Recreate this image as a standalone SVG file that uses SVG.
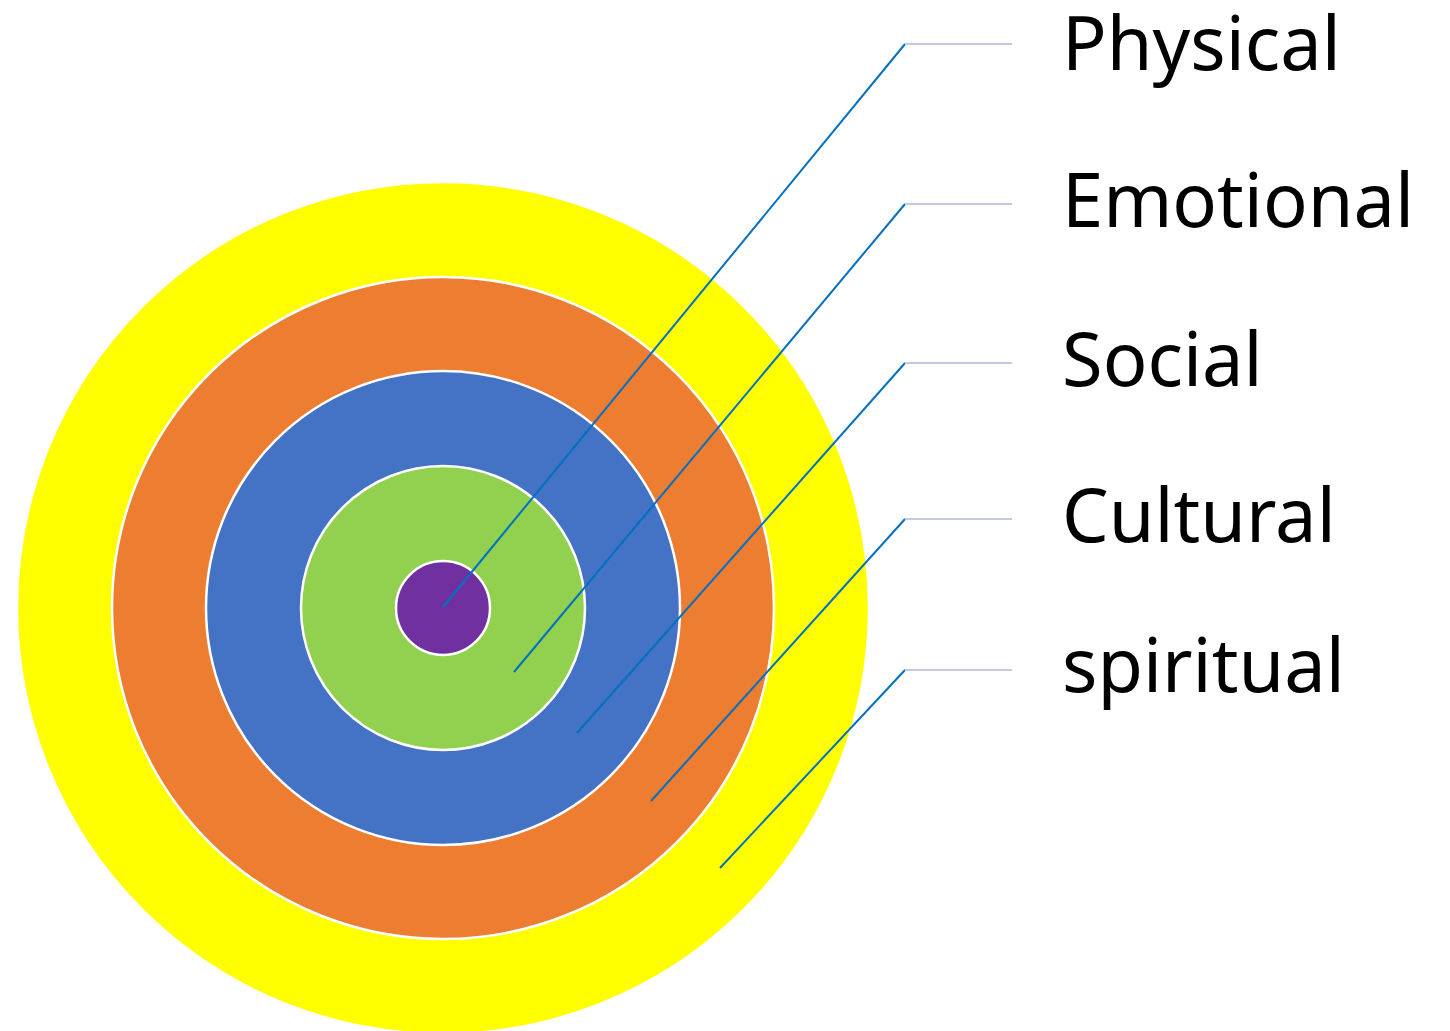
<svg xmlns="http://www.w3.org/2000/svg" width="1450" height="1031" viewBox="0 0 1450 1031">
<style>
.ring{stroke:#ffffff;stroke-width:2.5}
.lead{fill:none;stroke:#0070c0;stroke-width:2}
.tick{fill:none;stroke:#c3c9e3;stroke-width:2}
.lbl{font-family:"Noto Sans","Open Sans",sans-serif;font-size:74px;fill:#000000}
</style>
<rect width="1450" height="1031" fill="#ffffff"/>
<g id="spiritual-ring"><circle class="ring" cx="443" cy="608" r="426" fill="#ffff00"/></g>
<g id="cultural-ring"><circle class="ring" cx="443" cy="608" r="331" fill="#ed7d31"/></g>
<g id="social-ring"><circle class="ring" cx="443" cy="608" r="237" fill="#4472c4"/></g>
<g id="emotional-ring"><circle class="ring" cx="443" cy="608" r="142" fill="#92d050"/></g>
<g id="physical-core"><circle class="ring" cx="443" cy="608" r="47" fill="#7030a0"/></g>
<g id="connectors">
<polyline class="lead" points="443,607 905,44"/><line class="tick" x1="905" y1="44" x2="1012" y2="44"/>
<polyline class="lead" points="514,672 905,204"/><line class="tick" x1="905" y1="204" x2="1012" y2="204"/>
<polyline class="lead" points="577,733 905,363"/><line class="tick" x1="905" y1="363" x2="1012" y2="363"/>
<polyline class="lead" points="651,801 905,519"/><line class="tick" x1="905" y1="519" x2="1012" y2="519"/>
<polyline class="lead" points="720,868 905,670"/><line class="tick" x1="905" y1="670" x2="1012" y2="670"/>
</g>
<g id="labels">
<text class="lbl" x="1062" y="70">Physical</text>
<text class="lbl" x="1062" y="227">Emotional</text>
<text class="lbl" x="1062" y="386">Social</text>
<text class="lbl" x="1062" y="542">Cultural</text>
<text class="lbl" x="1062" y="692">spiritual</text>
</g>
</svg>
